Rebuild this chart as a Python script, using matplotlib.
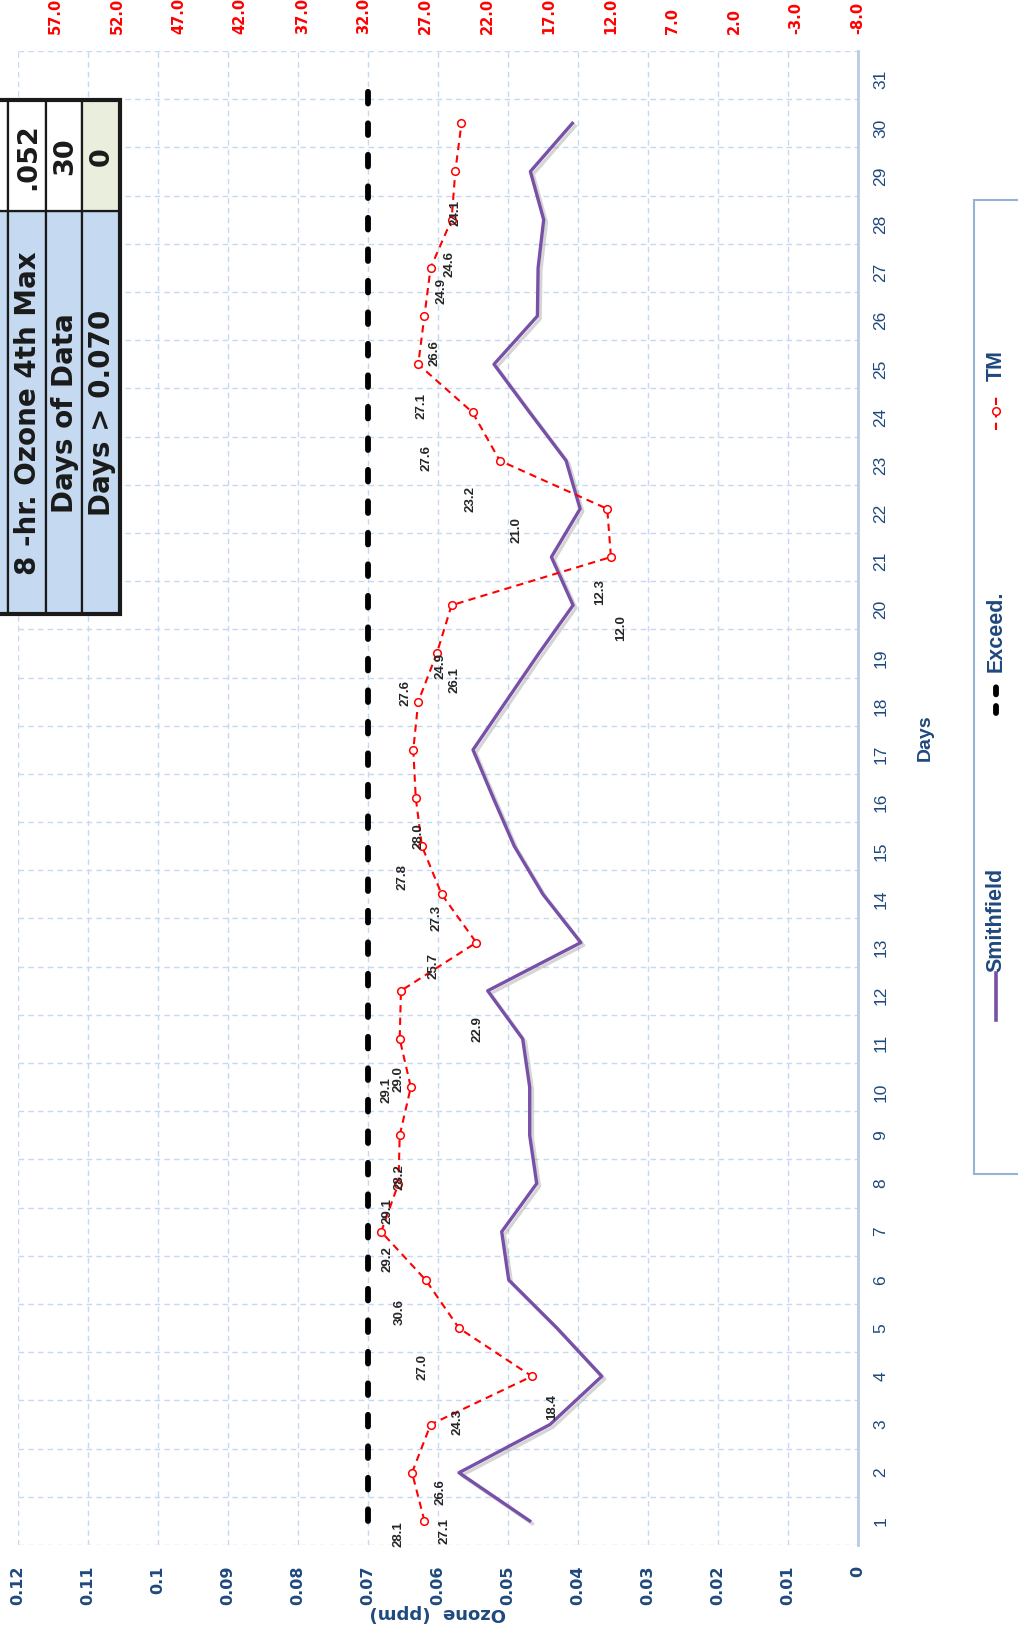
import numpy as np
import matplotlib
matplotlib.use("Agg")
import matplotlib.pyplot as plt
from matplotlib import font_manager as fm
from matplotlib.patches import Rectangle
from matplotlib.lines import Line2D
import matplotlib.patheffects as pe

# ---------------- data ----------------
days = list(range(1, 32))
smithfield = [0.0469, 0.0570, 0.0440, 0.0366, 0.0430, 0.0499, 0.0509, 0.0459, 0.0469, 0.0469,
              0.0479, 0.0529, 0.0396, 0.0450, 0.0491, 0.0521, 0.0550, 0.0503, 0.0456, 0.0407,
              0.0438, 0.0397, 0.0417, 0.0469, 0.0520, 0.0458, 0.0457, 0.0449, 0.0468, 0.0408]
exceed = [0.070] * 31
tm = [27.1, 28.1, 26.6, 18.4, 24.3, 27.0, 30.6, 29.2, 29.1, 28.2,
      29.1, 29.0, 22.9, 25.7, 27.3, 27.8, 28.0, 27.6, 26.1, 24.9,
      12.0, 12.3, 21.0, 23.2, 27.6, 27.1, 26.6, 24.9, 24.6, 24.1]
# data-label offsets (pixels, right / up) relative to each TM point
label_dx = [20, -14, 10, 20, -1, -3, 18, -11, -12, -11, -13, -2, 1, -8, 15,
            -13, 5, -13, 18, -11, 10, -7, 17, -2, 8, -3, 4, -10, -6, -6]
label_dy = [-9, -60, -67, -30, -93, -86, -79, -75, -75, -89, -50, -87, -85, -71, -71,
            -78, -85, 10, -26, -60, -70, -82, -68, -86, -93, -89, -84, -70, -92, -89]

ozone_ticks = [0, 0.01, 0.02, 0.03, 0.04, 0.05, 0.06, 0.07, 0.08, 0.09, 0.10, 0.11, 0.12]
ozone_ticklabels = ['0', '0.01', '0.02', '0.03', '0.04', '0.05', '0.06', '0.07',
                    '0.08', '0.09', '0.1', '0.11', '0.12']
temp_ticks = list(range(-8, 58, 5))

table_labels = ['', '8 -hr. Ozone 4th Max', 'Days of Data', 'Days > 0.070']
table_values = ['', '.052', '30', '0']

# ---------------- fonts ----------------
_names = {f.name for f in fm.fontManager.ttflist}
SANS = 'Liberation Sans' if 'Liberation Sans' in _names else 'DejaVu Sans'
BOLD = 'DejaVu Sans'

NAVY = '#1F497D'
GRID = '#C6D9F1'
PURPLE = '#7850A8'

W, H = 1018, 1633
fig = plt.figure(figsize=(W / 100, H / 100), dpi=100)


def fx(x):
    return x / W


def fy(y):
    return 1 - y / H


L, R, T, B = 18, 858, 52, 1546
ax = fig.add_axes([fx(L), fy(B), (R - L) / W, (B - T) / H])
ax.set_xlim(0.12, 0)
ax.set_ylim(0.5, 31.5)

# ticks & grid
ax.set_xticks(ozone_ticks)
ax.set_xticklabels(ozone_ticklabels, rotation=90, fontsize=11.5, fontweight='bold',
                   color=NAVY, family=BOLD)
ax.set_yticks(days)
ax.set_yticklabels([str(d) for d in days], rotation=90, fontsize=12.5,
                   color=NAVY, family=SANS)
ax.set_yticks(np.arange(0.5, 31.6, 1), minor=True)
ax.yaxis.tick_right()
ax.tick_params(axis='x', length=0, pad=14)
ax.tick_params(axis='y', which='both', length=0, pad=11)
ax.grid(which='major', axis='x', color=GRID, linestyle=(0, (4, 3)), lw=1.0)
ax.grid(which='minor', axis='y', color=GRID, linestyle=(0, (4, 3)), lw=1.0)
ax.set_axisbelow(True)
for s in ['left', 'top', 'bottom']:
    ax.spines[s].set_visible(False)
ax.spines['right'].set_color('#B8CCE4')
ax.spines['right'].set_linewidth(2)

# series on primary axis
ax.plot(smithfield, days[:len(smithfield)], color=PURPLE, lw=2.4, zorder=4,
        path_effects=[pe.SimpleLineShadow(offset=(2, -2), shadow_color='#888888', alpha=0.35),
                      pe.Normal()])
ax.plot(exceed, days, color='black', lw=4.2, linestyle=(0, (2.0, 3.4)),
        dash_capstyle='round', zorder=3)

# secondary axis (temperature)
ax2 = ax.twiny()
ax2.set_xlim(60, -8)
ax2.set_xticks(temp_ticks)
ax2.set_xticklabels([f'{v:.1f}' for v in temp_ticks], rotation=90, fontsize=10.5,
                    fontweight='bold', color='#FF0000', family=BOLD)
ax2.tick_params(axis='x', length=0, pad=13)
for s in ax2.spines.values():
    s.set_visible(False)
ax2.plot(tm, days[:len(tm)], color='#FF0000', lw=1.5, linestyle=(0, (3.5, 2.5)),
         marker='o', markersize=5.5, markerfacecolor='white', markeredgecolor='#FF0000',
         markeredgewidth=1.1, zorder=5)
for d, v, dx, dy in zip(days, tm, label_dx, label_dy):
    ax2.annotate(f'{v:.1f}', xy=(v, d), xytext=(dx, dy), textcoords='offset pixels',
                 rotation=90, ha='center', va='center', fontsize=9.5, fontweight='bold',
                 color='#262626', zorder=6, family=SANS)

# axis titles
fig.text(fx(438), fy(1613), 'Ozone  (ppm)', rotation=180, ha='center', va='center',
         fontsize=13, fontweight='bold', color=NAVY, family=BOLD)
fig.text(fx(925), fy(738), 'Days', rotation=90, ha='center', va='center',
         fontsize=14, fontweight='bold', color=NAVY, family=SANS)

# ---------------- table ----------------
rows_x = [(-40, 8.3), (8.3, 45.8), (45.8, 82.3), (82.3, 120)]
val_y = (101, 211.5)
lab_y = (211.5, 615)
val_colors = ['white', 'white', 'white', '#EAEEDC']
for i, (x0, x1) in enumerate(rows_x):
    fig.add_artist(Rectangle((fx(x0), fy(lab_y[1])), (x1 - x0) / W, (lab_y[1] - lab_y[0]) / H,
                             transform=fig.transFigure, facecolor='#C5D9F1',
                             edgecolor='#1a1a1a', lw=1.6, zorder=10))
    fig.add_artist(Rectangle((fx(x0), fy(val_y[1])), (x1 - x0) / W, (val_y[1] - val_y[0]) / H,
                             transform=fig.transFigure, facecolor=val_colors[i],
                             edgecolor='#1a1a1a', lw=1.6, zorder=10))
    xc = (x0 + x1) / 2
    if table_labels[i]:
        fig.text(fx(xc + 1), fy((lab_y[0] + lab_y[1]) / 2), table_labels[i], rotation=90,
                 ha='center', va='center', fontsize=20, fontweight='bold',
                 color='#1a1a1a', family=BOLD, zorder=11)
    if table_values[i]:
        fig.text(fx(xc + 1), fy((val_y[0] + val_y[1]) / 2), table_values[i], rotation=90,
                 ha='center', va='center', fontsize=19.5, fontweight='bold',
                 color='#1a1a1a', family=BOLD, zorder=11)
fig.add_artist(Rectangle((fx(-40), fy(lab_y[1])), (120 + 40) / W, (lab_y[1] - val_y[0]) / H,
                         transform=fig.transFigure, facecolor='none',
                         edgecolor='#1a1a1a', lw=3, zorder=12))

# ---------------- legend ----------------
LEG_FS = 15.5
fig.add_artist(Rectangle((fx(974), fy(1175)), 100 / W, (1175 - 201) / H,
                         transform=fig.transFigure, facecolor='white',
                         edgecolor='#95B3D7', lw=1.5, zorder=10))
fig.add_artist(Line2D([fx(996), fx(996)], [fy(1021), fy(974)], transform=fig.transFigure,
                      color=PURPLE, lw=2.6, zorder=11))
fig.text(fx(996), fy(972), 'Smithfield', rotation=90, ha='center', va='bottom',
         fontsize=LEG_FS, fontweight='bold', color=NAVY, zorder=11, family=SANS)
fig.add_artist(Line2D([fx(996), fx(996)], [fy(714), fy(679)], transform=fig.transFigure,
                      color='black', lw=4.2, linestyle=(0, (1.2, 2.0)),
                      dash_capstyle='round', zorder=11))
fig.text(fx(996), fy(672), 'Exceed.', rotation=90, ha='center', va='bottom',
         fontsize=LEG_FS, fontweight='bold', color=NAVY, zorder=11, family=SANS)
fig.add_artist(Line2D([fx(996), fx(996)], [fy(431), fy(394)], transform=fig.transFigure,
                      color='#FF0000', lw=1.5, linestyle=(0, (3.5, 2.5)), zorder=11))
fig.add_artist(Line2D([fx(996)], [fy(412)], transform=fig.transFigure, color='#FF0000',
                      marker='o', markersize=5.5, markerfacecolor='white',
                      markeredgecolor='#FF0000', markeredgewidth=1.1, zorder=12))
fig.text(fx(996), fy(381), 'TM', rotation=90, ha='center', va='bottom',
         fontsize=LEG_FS, fontweight='bold', color=NAVY, zorder=11, family=SANS)

fig.savefig('out.png', dpi=100)
